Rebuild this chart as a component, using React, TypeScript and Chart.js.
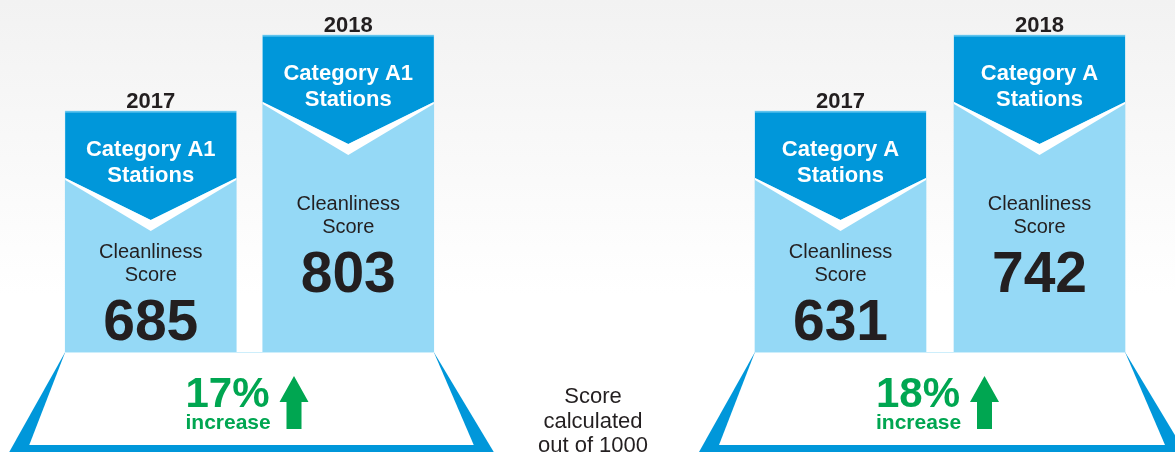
import React, { useEffect, useRef } from 'react';
import { Chart, registerables } from 'chart.js';

Chart.register(...registerables);

// ---- data ----
const years = ['2017', '2018'];
const titleA1 = ['Category A1', 'Stations'];
const titleA = ['Category A', 'Stations'];
const scoresA1 = [685, 803];
const scoresA = [631, 742];
const scoreCaption = ['Cleanliness', 'Score'];
const increaseWord = 'increase';
const footnote = ['Score', 'calculated', 'out of 1000'];

// ---- style ----
const FONT = '"Liberation Sans", Arial, Helvetica, sans-serif';
const DARK = '#0097DA';
const LIGHT = '#95D9F6';
const EDGE = '#5EC3EE';
const GREEN = '#00A651';
const INK = '#231F20';
const W = 1175;
const H = 452;

// axis range so that 2017/2018 bars reach the same heights in both panels
function yRange(values: number[]) {
  const lo = values[0];
  const hi = values[1];
  const k = (hi - lo) / 76;
  const min = lo - 241 * k;
  return { min, max: min + 352 * k };
}

function pct(values: number[]) {
  return Math.round(((values[1] - values[0]) / values[0]) * 100) + '%';
}

function drawPlatform(ctx: CanvasRenderingContext2D, L: number, R: number, B: number, values: number[]) {
  ctx.save();
  ctx.fillStyle = DARK;
  ctx.beginPath();
  ctx.moveTo(L, B);
  ctx.lineTo(L - 56, B + 100);
  ctx.lineTo(R + 60, B + 100);
  ctx.lineTo(R, B);
  ctx.closePath();
  ctx.fill();
  ctx.fillStyle = '#ffffff';
  ctx.beginPath();
  ctx.moveTo(L, B);
  ctx.lineTo(L - 36, B + 93);
  ctx.lineTo(R + 40, B + 93);
  ctx.lineTo(R, B);
  ctx.closePath();
  ctx.fill();
  ctx.fillStyle = '#cdeefb';
  ctx.fillRect(L, B, R - L, 1);
  const cx = (L + R) / 2;
  ctx.fillStyle = GREEN;
  ctx.textAlign = 'left';
  ctx.textBaseline = 'alphabetic';
  ctx.font = 'bold 42px ' + FONT;
  ctx.fillText(pct(values), cx - 64, B + 55);
  ctx.font = 'bold 21px ' + FONT;
  ctx.fillText(increaseWord, cx - 64, B + 77);
  ctx.beginPath();
  ctx.moveTo(cx + 44.5, B + 24);
  ctx.lineTo(cx + 59, B + 50);
  ctx.lineTo(cx + 52, B + 50);
  ctx.lineTo(cx + 52, B + 77);
  ctx.lineTo(cx + 37, B + 77);
  ctx.lineTo(cx + 37, B + 50);
  ctx.lineTo(cx + 30, B + 50);
  ctx.closePath();
  ctx.fill();
  ctx.restore();
}

function makePlugin(title: string[], values: number[], withBackground: boolean) {
  return {
    id: 'panelDeco',
    beforeDraw(chart: any) {
      if (!withBackground) return;
      const ctx = chart.ctx;
      const g = ctx.createLinearGradient(0, 0, 0, H);
      g.addColorStop(0, '#f2f2f2');
      g.addColorStop(0.65, '#ffffff');
      g.addColorStop(1, '#ffffff');
      ctx.save();
      ctx.fillStyle = g;
      ctx.fillRect(0, 0, W, H);
      ctx.restore();
    },
    afterDraw(chart: any) {
      const ctx = chart.ctx;
      const bars = chart.getDatasetMeta(0).data;
      const area = chart.chartArea;
      const B = area.bottom;
      const w0 = bars[0].width;
      const L = bars[0].x - w0 / 2;
      const R = bars[1].x + bars[1].width / 2;
      drawPlatform(ctx, L, R, B, values);

      const captionOffset = [147, 175];
      ctx.save();
      ctx.textAlign = 'center';
      ctx.textBaseline = 'alphabetic';
      bars.forEach((bar: any, i: number) => {
        const x = bar.x;
        const width = bar.width;
        const T = bar.y;
        const bl = x - width / 2;
        const br = x + width / 2;
        ctx.fillStyle = EDGE;
        ctx.fillRect(bl, T, width, 1.5);
        ctx.fillStyle = DARK;
        ctx.beginPath();
        ctx.moveTo(bl, T + 1.5);
        ctx.lineTo(br, T + 1.5);
        ctx.lineTo(br, T + 67);
        ctx.lineTo(x, T + 109);
        ctx.lineTo(bl, T + 67);
        ctx.closePath();
        ctx.fill();
        ctx.fillStyle = '#ffffff';
        ctx.beginPath();
        ctx.moveTo(bl, T + 67);
        ctx.lineTo(x, T + 109);
        ctx.lineTo(br, T + 67);
        ctx.lineTo(br, T + 69);
        ctx.lineTo(x, T + 120);
        ctx.lineTo(bl, T + 69);
        ctx.closePath();
        ctx.fill();
        ctx.fillStyle = INK;
        ctx.font = 'bold 22px ' + FONT;
        ctx.fillText(chart.data.labels[i], x, T - 3);
        ctx.fillStyle = '#ffffff';
        ctx.fillText(title[0], x, T + 45);
        ctx.fillText(title[1], x, T + 71);
        const cy = T + captionOffset[i];
        ctx.fillStyle = INK;
        ctx.font = '20px ' + FONT;
        ctx.fillText(scoreCaption[0], x, cy);
        ctx.fillText(scoreCaption[1], x, cy + 23);
        ctx.font = 'bold 57px ' + FONT;
        ctx.fillText(String(values[i]), x, cy + 82);
      });
      ctx.restore();

      if (withBackground) {
        ctx.save();
        ctx.fillStyle = INK;
        ctx.font = '22px ' + FONT;
        ctx.textAlign = 'center';
        ctx.textBaseline = 'alphabetic';
        footnote.forEach((t, i) => ctx.fillText(t, 593, 403 + i * 24.5));
        ctx.restore();
      }
    },
  };
}

function makeConfig(label: string, title: string[], values: number[], padL: number, padR: number, bg: boolean): any {
  const r = yRange(values);
  return {
    type: 'bar',
    data: {
      labels: years,
      datasets: [
        {
          label,
          data: values,
          backgroundColor: LIGHT,
          borderWidth: 0,
          barThickness: 171,
        },
      ],
    },
    options: {
      responsive: false,
      animation: false,
      devicePixelRatio: 1,
      layout: { padding: { left: padL, right: padR, top: 0, bottom: 100 } },
      plugins: { legend: { display: false }, tooltip: { enabled: false } },
      scales: {
        x: { type: 'category', display: false, offset: true },
        y: { display: false, min: r.min, max: r.max },
      },
    },
    plugins: [makePlugin(title, values, bg)],
  };
}

export default function App() {
  const leftRef = useRef<HTMLCanvasElement>(null);
  const rightRef = useRef<HTMLCanvasElement>(null);

  useEffect(() => {
    const left = new Chart(leftRef.current as HTMLCanvasElement, makeConfig('Category A1 Stations', titleA1, scoresA1, 52, 728, true));
    const right = new Chart(rightRef.current as HTMLCanvasElement, makeConfig('Category A Stations', titleA, scoresA, 741, 36, false));
    return () => {
      left.destroy();
      right.destroy();
    };
  }, []);

  const canvasStyle: React.CSSProperties = { position: 'absolute', left: 0, top: 0, width: W, height: H };
  return (
    <div style={{ position: 'absolute', left: 0, top: 0, width: W, height: H, overflow: 'hidden', background: '#fff' }}>
      <canvas ref={leftRef} width={W} height={H} style={canvasStyle} />
      <canvas ref={rightRef} width={W} height={H} style={canvasStyle} />
    </div>
  );
}
